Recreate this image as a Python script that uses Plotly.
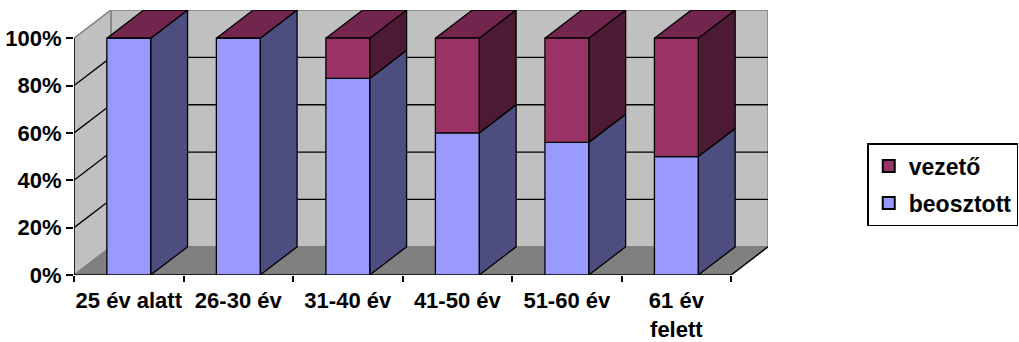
import plotly.graph_objects as go

# Age groups and the share of each staff category (percent)
categories = ["25 év alatt", "26-30 év", "31-40 év", "41-50 év", "51-60 év", "61 év<br>felett"]
beosztott = [100, 100, 83, 60, 56, 50]
vezeto = [0, 0, 17, 40, 44, 50]
y_ticks = [0, 20, 40, 60, 80, 100]

# Colours (front face, side face, top face)
BLUE, BLUE_SIDE = "#9999ff", "#4d4d80"
PURPLE, PURPLE_SIDE, PURPLE_TOP = "#993366", "#4d1a33", "#73264d"
WALL, FLOOR, EDGE = "#c0c0c0", "#808080", "#808080"

# Oblique projection of the depth axis (in data units)
DX, DY = 0.337, 0.119
HALF = 0.2          # half width of a bar front
X0, X1 = -0.5, len(categories) - 0.5

FONT = dict(family="Liberation Sans, Arial, sans-serif", size=22, color="black", weight="bold")
LEGEND_FONT = dict(FONT, size=23)


def faces(bottoms, tops):
    """Front, side and top polygons of a stack segment for every category."""
    fx, fy, sx, sy, tx, ty = [], [], [], [], [], []
    for i, (b, t) in enumerate(zip(bottoms, tops)):
        l, r = i - HALF, i + HALF
        fx += [l, r, r, l, l, None]
        fy += [b, b, t, t, b, None]
        sx += [r, r + DX, r + DX, r, r, None]
        sy += [b, b + DY, t + DY, t, b, None]
        tx += [l, r, r + DX, l + DX, l, None]
        ty += [t, t, t + DY, t + DY, t, None]
    return (fx, fy), (sx, sy), (tx, ty)


fig = go.Figure()

b_low = [0.0] * len(categories)
b_high = [v / 100 for v in beosztott]
v_high = [(b + v) / 100 for b, v in zip(beosztott, vezeto)]

line = dict(color="black", width=1.3)
for lo, hi, front_c, side_c, with_top in [
    (b_low, b_high, BLUE, BLUE_SIDE, False),
    (b_high, v_high, PURPLE, PURPLE_SIDE, True),
]:
    front, side, top = faces(lo, hi)
    fig.add_trace(go.Scatter(x=side[0], y=side[1], fill="toself", fillcolor=side_c,
                             mode="lines", line=line, showlegend=False, hoverinfo="skip"))
    if with_top:
        fig.add_trace(go.Scatter(x=top[0], y=top[1], fill="toself", fillcolor=PURPLE_TOP,
                                 mode="lines", line=line, showlegend=False, hoverinfo="skip"))
    fig.add_trace(go.Scatter(x=front[0], y=front[1], fill="toself", fillcolor=front_c,
                             mode="lines", line=line, showlegend=False, hoverinfo="skip"))

# Legend entries
for name, color, grp in [("vezető", PURPLE, "a"), ("beosztott", BLUE, "b")]:
    fig.add_trace(go.Scatter(x=[None], y=[None], mode="markers", name=name, legendgroup=grp,
                             marker=dict(symbol="square", size=15, color=color,
                                         line=dict(color="black", width=1.5))))

# Walls, floor and gridlines
shapes = [
    dict(type="rect", x0=X0 + DX, x1=X1 + DX, y0=DY, y1=1 + DY,
         fillcolor=WALL, line=dict(color=EDGE, width=1.5)),
    dict(type="path", path=f"M{X0},0 L{X0 + DX},{DY} L{X0 + DX},{1 + DY} L{X0},1 Z",
         fillcolor=WALL, line=dict(color=EDGE, width=1.5)),
    dict(type="path", path=f"M{X0},0 L{X1},0 L{X1 + DX},{DY} L{X0 + DX},{DY} Z",
         fillcolor=FLOOR, line=dict(color=EDGE, width=1)),
]
for t in y_ticks[1:-1]:
    v = t / 100
    shapes.append(dict(type="line", x0=X0 + DX, x1=X1 + DX, y0=v + DY, y1=v + DY,
                       line=dict(color="black", width=1.3)))
    shapes.append(dict(type="line", x0=X0, x1=X0 + DX, y0=v, y1=v + DY,
                       line=dict(color="black", width=1.3)))
# floor edges and axis lines
shapes += [
    dict(type="line", x0=X0, x1=X1, y0=0, y1=0, line=dict(color="black", width=1.5)),
    dict(type="line", x0=X1, x1=X1 + DX, y0=0, y1=DY, line=dict(color="black", width=1.5)),
    dict(type="line", x0=X0, x1=X0, y0=0, y1=1, line=dict(color="black", width=1.5)),
]
for s in shapes:
    s.update(xref="x", yref="y", layer="below")

fig.update_layout(
    width=1019, height=342,
    margin=dict(l=74, r=251, t=10, b=67, autoexpand=False),
    paper_bgcolor="white", plot_bgcolor="white",
    shapes=shapes,
    showlegend=True,
    legend=dict(x=1.143, y=0.498, xanchor="left", yanchor="top",
                bordercolor="black", borderwidth=1.5, bgcolor="white",
                font=LEGEND_FONT, traceorder="grouped", tracegroupgap=4,
                itemsizing="constant"),
    xaxis=dict(range=[X0, X1 + DX], showgrid=False, zeroline=False, showline=False,
               automargin=False,
               tickmode="array", tickvals=list(range(len(categories))), ticktext=categories,
               ticks="outside", ticklen=6, tickcolor="rgba(0,0,0,0)", tickfont=FONT,
               minor=dict(tickmode="array", tickvals=[i - 0.5 for i in range(len(categories) + 1)],
                          ticks="outside", ticklen=6, tickcolor="black", tickwidth=1.5),
               fixedrange=True),
    yaxis=dict(range=[0, 1 + DY], showgrid=False, zeroline=False, showline=False,
               automargin=False,
               tickmode="array", tickvals=[t / 100 for t in y_ticks],
               ticktext=[f"{t}%" for t in y_ticks],
               ticks="outside", ticklen=7, tickcolor="black", tickwidth=1.5, tickfont=FONT,
               fixedrange=True),
)

fig.write_html("out.html")
